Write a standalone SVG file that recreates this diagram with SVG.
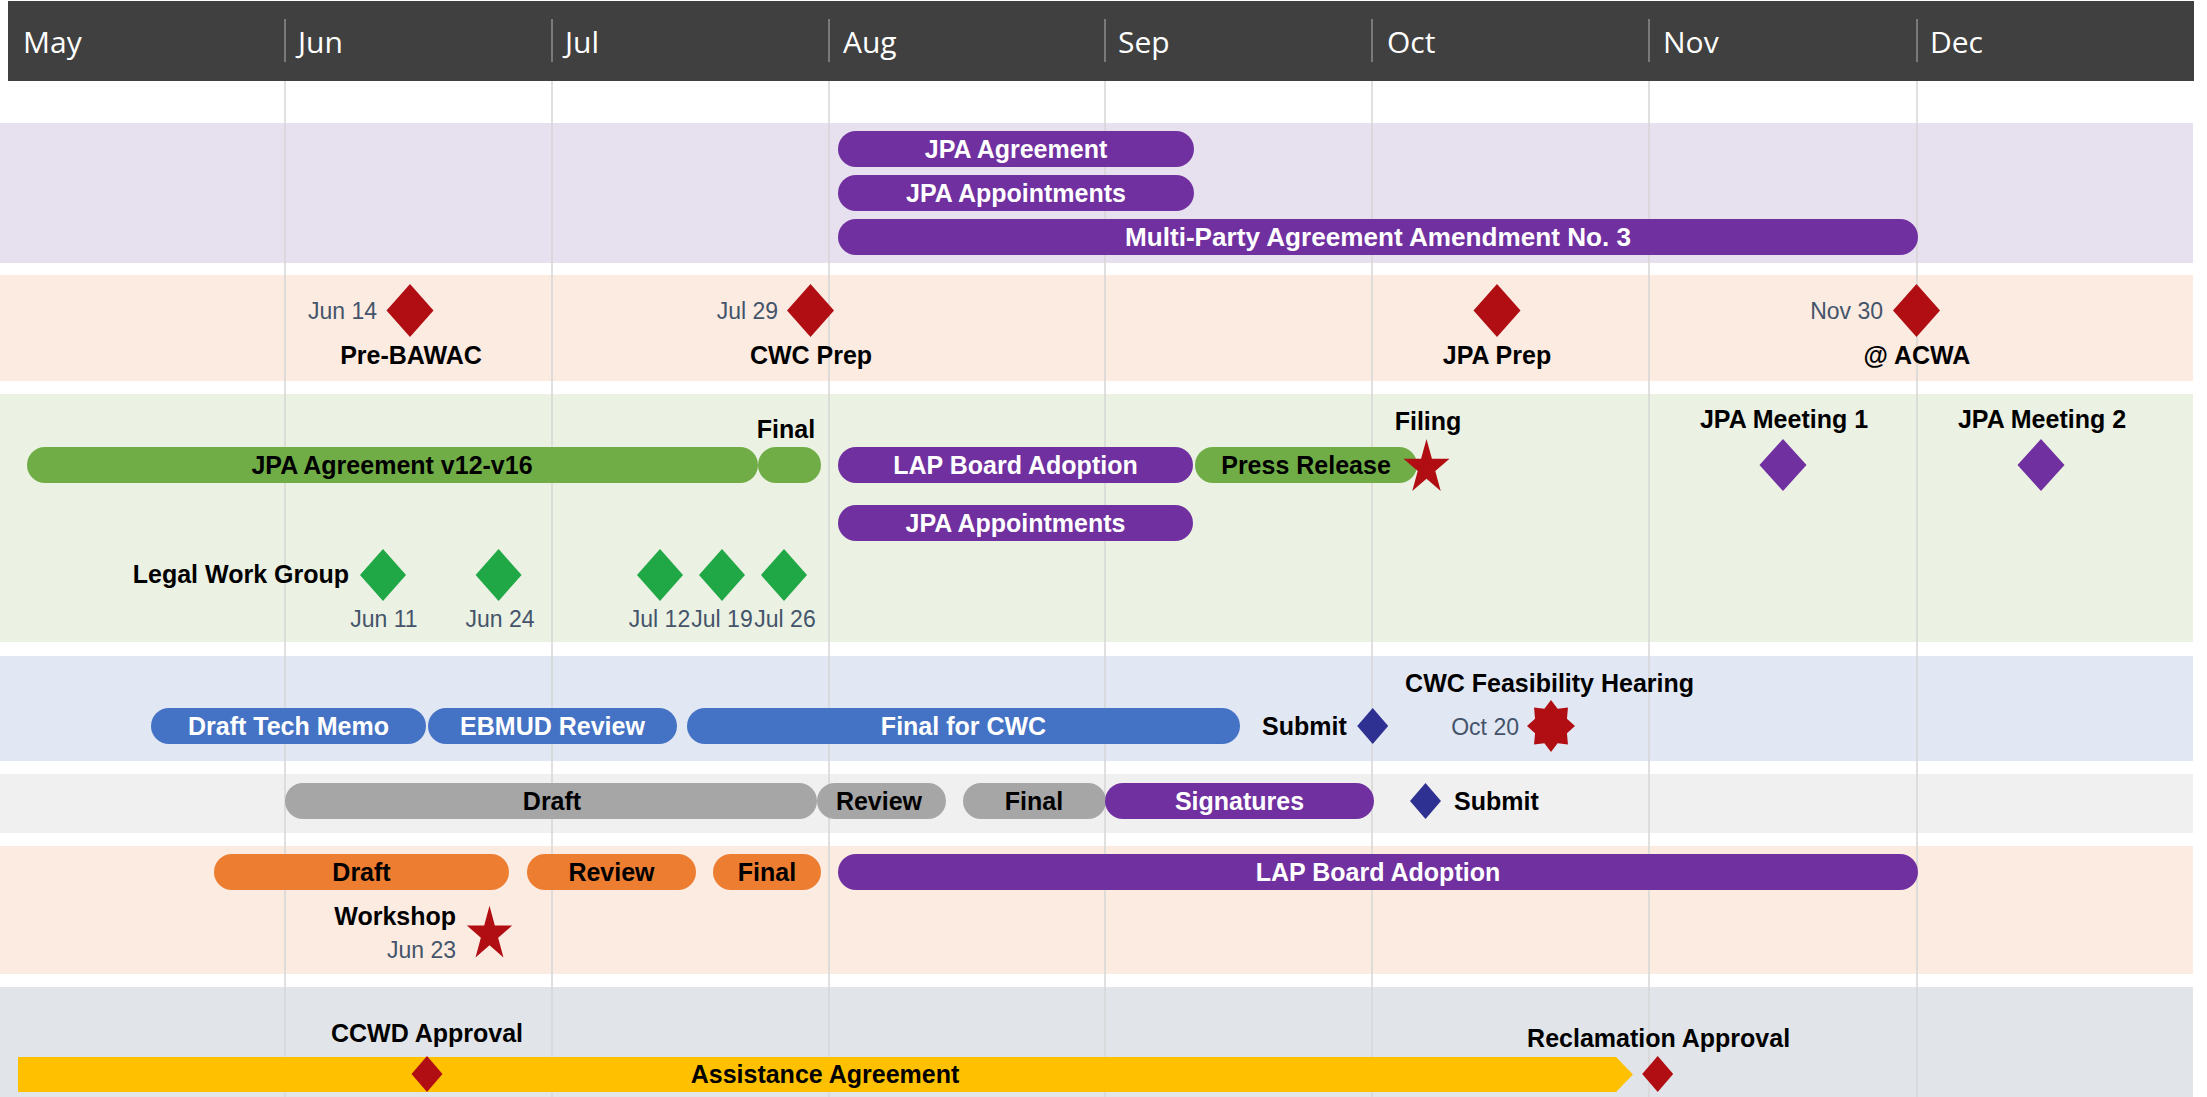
<svg xmlns="http://www.w3.org/2000/svg" xmlns:xlink="http://www.w3.org/1999/xlink" width="2207" height="1097" viewBox="0 0 2207 1097">
<style>
.month{font-family:"Open Sans","Liberation Sans",sans-serif;font-size:30px;fill:#ffffff}
.lbl{font-family:"Liberation Sans",Arial,sans-serif;font-size:25px;font-weight:bold;fill:#000000}
.wlbl{font-family:"Liberation Sans",Arial,sans-serif;font-size:25px;font-weight:bold;fill:#ffffff}
.date{font-family:"Liberation Sans",Arial,sans-serif;font-size:23px;fill:#44546a}
.mid{text-anchor:middle}
.end{text-anchor:end}
.grid{stroke:#d6d6d6;stroke-width:1.5}
.hgrid{stroke:#7a7a7a;stroke-width:2}
.purple{fill:#7030a0}
.green{fill:#70ad47}
.blue{fill:#4472c4}
.gray{fill:#a6a6a6}
.orange{fill:#ed7d31}
.yellow{fill:#ffc000}
.red{fill:#b10e14}
.gdia{fill:#1fa845}
.bdia{fill:#2e3192}
</style>
<defs>
<polygon id="star5" points="0,-1 0.2245,-0.309 0.951,-0.309 0.363,0.118 0.588,0.809 0,0.382 -0.588,0.809 -0.363,0.118 -0.951,-0.309 -0.2245,-0.309"/>
<polygon id="star8" points="0,-1 0.2755,-0.665 0.7071,-0.7071 0.665,-0.2755 1,0 0.665,0.2755 0.7071,0.7071 0.2755,0.665 0,1 -0.2755,0.665 -0.7071,0.7071 -0.665,0.2755 -1,0 -0.665,-0.2755 -0.7071,-0.7071 -0.2755,-0.665"/>
</defs>

<g id="background">
<rect x="0" y="0" width="2207" height="1097" fill="#ffffff"/>
<rect x="0" y="123" width="2193" height="140" fill="#e7e0ef"/>
<rect x="0" y="275" width="2193" height="106" fill="#fcebe1"/>
<rect x="0" y="394" width="2193" height="248" fill="#ebf1e3"/>
<rect x="0" y="656" width="2193" height="105" fill="#e2e8f3"/>
<rect x="0" y="774" width="2193" height="59" fill="#f0f0f0"/>
<rect x="0" y="846" width="2193" height="128" fill="#fcebe1"/>
<rect x="0" y="987" width="2193" height="110" fill="#e1e5e9"/>
</g>

<g id="gridlines">
<line class="grid" x1="285" y1="81" x2="285" y2="1097"/>
<line class="grid" x1="552" y1="81" x2="552" y2="1097"/>
<line class="grid" x1="829" y1="81" x2="829" y2="1097"/>
<line class="grid" x1="1105" y1="81" x2="1105" y2="1097"/>
<line class="grid" x1="1372" y1="81" x2="1372" y2="1097"/>
<line class="grid" x1="1649" y1="81" x2="1649" y2="1097"/>
<line class="grid" x1="1917" y1="81" x2="1917" y2="1097"/>
</g>

<g id="header">
<rect x="8" y="1" width="2186" height="80" fill="#404040"/>
<line class="hgrid" x1="285" y1="19" x2="285" y2="62"/>
<line class="hgrid" x1="552" y1="19" x2="552" y2="62"/>
<line class="hgrid" x1="829" y1="19" x2="829" y2="62"/>
<line class="hgrid" x1="1105" y1="19" x2="1105" y2="62"/>
<line class="hgrid" x1="1372" y1="19" x2="1372" y2="62"/>
<line class="hgrid" x1="1649" y1="19" x2="1649" y2="62"/>
<line class="hgrid" x1="1917" y1="19" x2="1917" y2="62"/>
<text class="month" x="23" y="53">May</text>
<text class="month" x="298" y="53">Jun</text>
<text class="month" x="565" y="53">Jul</text>
<text class="month" x="843" y="53">Aug</text>
<text class="month" x="1118" y="53">Sep</text>
<text class="month" x="1387" y="53">Oct</text>
<text class="month" x="1663" y="53">Nov</text>
<text class="month" x="1930" y="53">Dec</text>
</g>

<g id="connectors"></g>

<!-- Lane 1 -->
<g id="jpa-agreement">
<rect class="purple" x="838" y="131" width="356" height="36" rx="18"/>
<text class="wlbl mid" x="1016" y="157.5">JPA Agreement</text>
</g>
<g id="jpa-appointments-1">
<rect class="purple" x="838" y="175" width="356" height="36" rx="18"/>
<text class="wlbl mid" x="1016" y="201.5">JPA Appointments</text>
</g>
<g id="multi-party-amendment">
<rect class="purple" x="838" y="219" width="1080" height="36" rx="18"/>
<text class="wlbl mid" x="1378" y="245.5" textLength="506" lengthAdjust="spacingAndGlyphs">Multi-Party Agreement Amendment No. 3</text>
</g>

<!-- Lane 2 -->
<g id="pre-bawac">
<polygon class="red" points="410,284 433.5,310.5 410,337 386.5,310.5"/>
<text class="date end" x="377" y="319">Jun 14</text>
<text class="lbl mid" x="411" y="364">Pre-BAWAC</text>
</g>
<g id="cwc-prep">
<polygon class="red" points="810.5,284 834,310.5 810.5,337 787,310.5"/>
<text class="date end" x="778" y="319">Jul 29</text>
<text class="lbl mid" x="811" y="364">CWC Prep</text>
</g>
<g id="jpa-prep">
<polygon class="red" points="1497,284 1520.5,310.5 1497,337 1473.5,310.5"/>
<text class="lbl mid" x="1497" y="364">JPA Prep</text>
</g>
<g id="acwa">
<polygon class="red" points="1916.5,284 1940,310.5 1916.5,337 1893,310.5"/>
<text class="date end" x="1883" y="319">Nov 30</text>
<text class="lbl mid" x="1917" y="364">@ ACWA</text>
</g>

<!-- Lane 3 -->
<g id="jpa-agreement-v12-v16">
<rect class="green" x="27" y="447" width="731" height="36" rx="18"/>
<text class="lbl mid" x="392" y="473.5">JPA Agreement v12-v16</text>
</g>
<g id="final-green">
<rect class="green" x="758" y="447" width="63" height="36" rx="18"/>
<text class="lbl mid" x="786" y="438">Final</text>
</g>
<g id="lap-board-adoption-1">
<rect class="purple" x="838" y="447" width="355" height="36" rx="18"/>
<text class="wlbl mid" x="1015.5" y="473.5">LAP Board Adoption</text>
</g>
<g id="press-release">
<rect class="green" x="1195" y="447" width="222" height="36" rx="18"/>
<text class="lbl mid" x="1306" y="473.5">Press Release</text>
</g>
<g id="filing">
<use xlink:href="#star5" href="#star5" class="red" transform="translate(1426.5,467.7) scale(24.2,28.7)"/>
<text class="lbl mid" x="1428" y="430">Filing</text>
</g>
<g id="jpa-meeting-1">
<polygon class="purple" points="1783,439 1806.5,465 1783,491 1759.5,465"/>
<text class="lbl mid" x="1784" y="428">JPA Meeting 1</text>
</g>
<g id="jpa-meeting-2">
<polygon class="purple" points="2041,439 2064.5,465 2041,491 2017.5,465"/>
<text class="lbl mid" x="2042" y="428">JPA Meeting 2</text>
</g>
<g id="jpa-appointments-2">
<rect class="purple" x="838" y="505" width="355" height="36" rx="18"/>
<text class="wlbl mid" x="1015.5" y="531.5">JPA Appointments</text>
</g>
<g id="legal-work-group">
<text class="lbl end" x="349" y="583">Legal Work Group</text>
<polygon class="gdia" points="383,549 406,575 383,601 360,575"/>
<polygon class="gdia" points="498.6,549 521.6,575 498.6,601 475.6,575"/>
<polygon class="gdia" points="660,549 683,575 660,601 637,575"/>
<polygon class="gdia" points="722,549 745,575 722,601 699,575"/>
<polygon class="gdia" points="784,549 807,575 784,601 761,575"/>
<text class="date mid" x="384" y="627">Jun 11</text>
<text class="date mid" x="500" y="627">Jun 24</text>
<text class="date mid" x="659.5" y="627">Jul 12</text>
<text class="date mid" x="722" y="627">Jul 19</text>
<text class="date mid" x="785" y="627">Jul 26</text>
</g>

<!-- Lane 4 -->
<g id="draft-tech-memo">
<rect class="blue" x="151" y="708" width="275" height="36" rx="18"/>
<text class="wlbl mid" x="288.5" y="734.5">Draft Tech Memo</text>
</g>
<g id="ebmud-review">
<rect class="blue" x="428" y="708" width="249" height="36" rx="18"/>
<text class="wlbl mid" x="552.5" y="734.5">EBMUD Review</text>
</g>
<g id="final-for-cwc">
<rect class="blue" x="687" y="708" width="553" height="36" rx="18"/>
<text class="wlbl mid" x="963.5" y="734.5">Final for CWC</text>
</g>
<g id="submit-1">
<text class="lbl" x="1262" y="735">Submit</text>
<polygon class="bdia" points="1372.7,708 1388.2,726 1372.7,744 1357.2,726"/>
</g>
<g id="cwc-feasibility-hearing">
<text class="lbl mid" x="1549.6" y="692">CWC Feasibility Hearing</text>
<text class="date end" x="1519" y="735">Oct 20</text>
<use xlink:href="#star8" href="#star8" class="red" transform="translate(1551,726) scale(24,26)"/>
</g>

<!-- Lane 5 -->
<g id="draft-gray">
<rect class="gray" x="285" y="783" width="532" height="36" rx="18"/>
<text class="lbl mid" x="552" y="809.5">Draft</text>
</g>
<g id="review-gray">
<rect class="gray" x="817" y="783" width="129" height="36" rx="18"/>
<text class="lbl mid" x="879" y="809.5">Review</text>
</g>
<g id="final-gray">
<rect class="gray" x="963" y="783" width="143" height="36" rx="18"/>
<text class="lbl mid" x="1034" y="809.5">Final</text>
</g>
<g id="signatures">
<rect class="purple" x="1105" y="783" width="269" height="36" rx="18"/>
<text class="wlbl mid" x="1239.5" y="809.5">Signatures</text>
</g>
<g id="submit-2">
<polygon class="bdia" points="1425.5,783 1441,801 1425.5,819 1410,801"/>
<text class="lbl" x="1454" y="810">Submit</text>
</g>

<!-- Lane 6 -->
<g id="draft-orange">
<rect class="orange" x="214" y="854" width="295" height="36" rx="18"/>
<text class="lbl mid" x="361.5" y="880.5">Draft</text>
</g>
<g id="review-orange">
<rect class="orange" x="527" y="854" width="169" height="36" rx="18"/>
<text class="lbl mid" x="611.5" y="880.5">Review</text>
</g>
<g id="final-orange">
<rect class="orange" x="713" y="854" width="108" height="36" rx="18"/>
<text class="lbl mid" x="767" y="880.5">Final</text>
</g>
<g id="lap-board-adoption-2">
<rect class="purple" x="838" y="854" width="1080" height="36" rx="18"/>
<text class="wlbl mid" x="1378" y="880.5">LAP Board Adoption</text>
</g>
<g id="workshop">
<text class="lbl end" x="456" y="925">Workshop</text>
<text class="date end" x="456" y="958">Jun 23</text>
<use xlink:href="#star5" href="#star5" class="red" transform="translate(489.5,934.4) scale(23.8,28.7)"/>
</g>

<!-- Lane 7 -->
<g id="assistance-agreement">
<polygon class="yellow" points="18,1057 1616,1057 1633,1074.5 1616,1092 18,1092"/>
<text class="lbl mid" x="825" y="1083">Assistance Agreement</text>
</g>
<g id="ccwd-approval">
<text class="lbl mid" x="427" y="1042">CCWD Approval</text>
<polygon class="red" points="427,1056 442.5,1074 427,1092 411.5,1074"/>
</g>
<g id="reclamation-approval">
<text class="lbl mid" x="1658.6" y="1047">Reclamation Approval</text>
<polygon class="red" points="1657.7,1056 1673.2,1074 1657.7,1092 1642.2,1074"/>
</g>
</svg>
